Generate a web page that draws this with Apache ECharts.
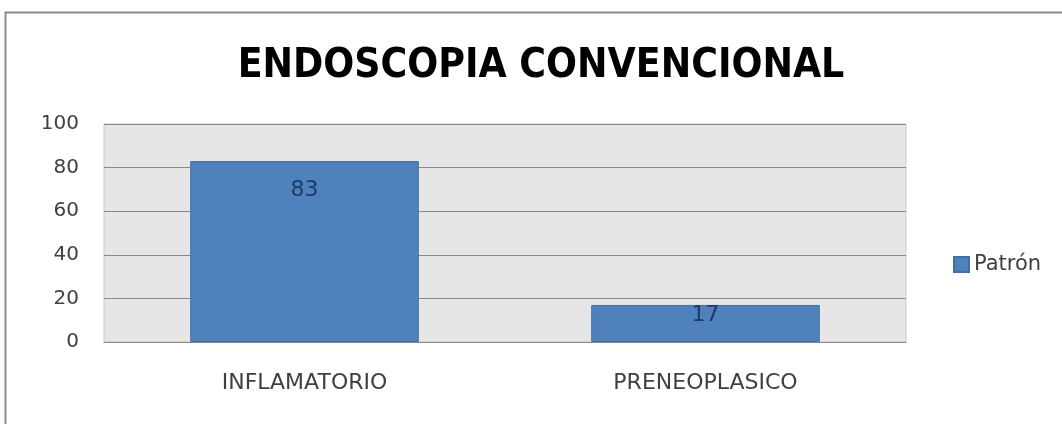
<!DOCTYPE html>
<html>
<head>
<meta charset="utf-8">
<script src="https://cdn.jsdelivr.net/npm/echarts@6/dist/echarts.min.js"></script>
<style>
  html, body { margin: 0; padding: 0; background: #fff; }
  #chart { width: 1062px; height: 424px; }
</style>
</head>
<body>
<div id="chart"></div>
<script>
// Chart data
const categories = ['INFLAMATORIO', 'PRENEOPLASICO'];
const patronValues = [83, 17];
const yTicks = [0, 20, 40, 60, 80, 100];
const seriesName = 'Patrón';
const titleText = 'ENDOSCOPIA CONVENCIONAL';

const chart = echarts.init(document.getElementById('chart'));

// label placement below the bar top: tall bars keep a gap, short bars hug the top
const labelDistances = [18, 0];
const labelOffsets = [[0, 0], [0, -1]];

const bodyFont = 'DejaVu Sans';

chart.setOption({
  backgroundColor: '#ffffff',
  animation: false,
  title: {
    text: titleText,
    left: 536,
    textAlign: 'center',
    top: 41,
    textStyle: {
      fontFamily: 'DejaVu Sans Condensed',
      fontWeight: 'bold',
      fontSize: 40.5,
      color: '#000000'
    }
  },
  graphic: [{
    type: 'rect',
    shape: { x: 5.5, y: 12.5, width: 1100, height: 500 },
    style: { fill: 'none', stroke: '#8c8c8c', lineWidth: 2 },
    silent: true,
    z: 100
  }],
  legend: {
    data: [seriesName],
    left: 948,
    top: 249,
    itemWidth: 15,
    itemHeight: 15,
    icon: 'rect',
    textStyle: {
      fontFamily: bodyFont,
      fontSize: 21,
      color: '#404040'
    }
  },
  grid: {
    left: 104,
    top: 124,
    width: 802,
    height: 218,
    show: true,
    backgroundColor: '#e6e6e6',
    borderColor: '#c8c8c8',
    borderWidth: 1
  },
  xAxis: {
    type: 'category',
    data: categories,
    axisLine: { show: true, lineStyle: { color: '#888888' } },
    axisTick: { show: false },
    axisLabel: {
      margin: 30,
      fontFamily: bodyFont,
      fontSize: 22,
      color: '#404040'
    }
  },
  yAxis: {
    type: 'value',
    min: yTicks[0],
    max: yTicks[yTicks.length - 1],
    interval: yTicks[1] - yTicks[0],
    axisLine: { show: false },
    axisTick: { show: false },
    axisLabel: {
      margin: 25,
      fontFamily: bodyFont,
      fontSize: 20,
      color: '#404040'
    },
    splitLine: { show: true, lineStyle: { color: '#8a8a8a', width: 1 } }
  },
  series: [{
    name: seriesName,
    type: 'bar',
    barWidth: '57%',
    data: patronValues.map((v, i) => ({
      value: v,
      label: { distance: labelDistances[i], offset: labelOffsets[i] }
    })),
    itemStyle: {
      color: '#4f81bd',
      borderColor: '#41709f',
      borderWidth: 1
    },
    label: {
      show: true,
      position: 'insideTop',
      fontFamily: bodyFont,
      fontSize: 22,
      color: '#1f3a63'
    }
  }]
});
</script>
</body>
</html>
